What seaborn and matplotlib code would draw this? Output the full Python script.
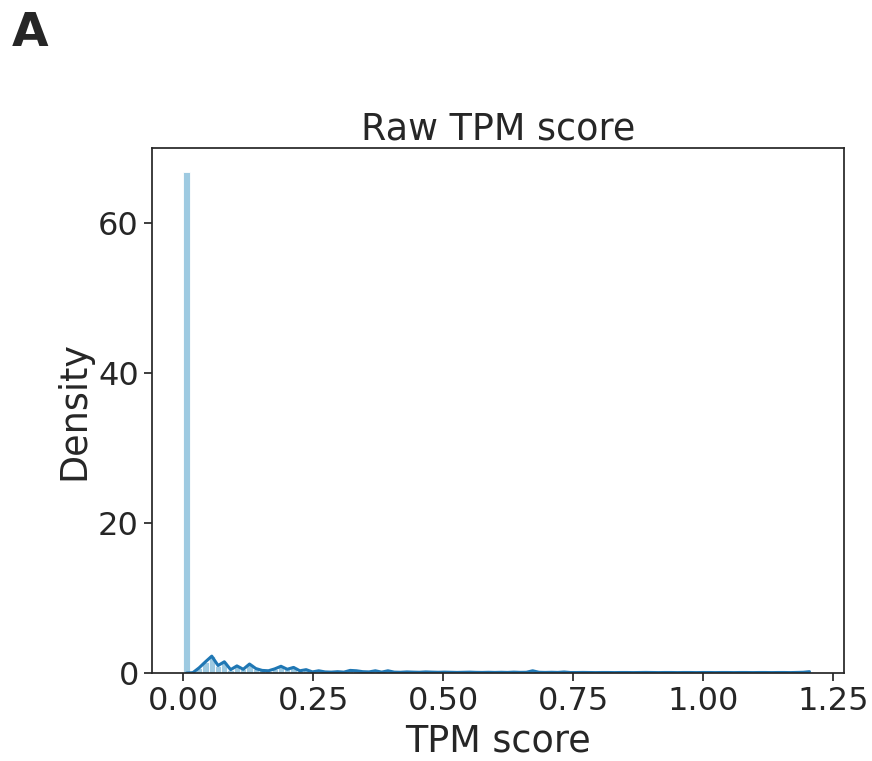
import numpy as np
import pandas as pd
import matplotlib
matplotlib.use("Agg")
import matplotlib.pyplot as plt
import seaborn as sns

# Histogram density per bin (100 bins spanning 0 .. 1.21)
bin_density = [
    66.8, 0.05, 0.7, 1.5, 2.25, 1.0, 1.5, 0.45, 0.95, 0.5,
    1.2, 0.6, 0.35, 0.3, 0.55, 0.9, 0.5, 0.75, 0.3, 0.45,
    0.15, 0.3, 0.15, 0.12, 0.18, 0.12, 0.35, 0.3, 0.18, 0.15,
    0.3, 0.12, 0.3, 0.12, 0.1, 0.15, 0.12, 0.1, 0.15, 0.12,
    0.1, 0.12, 0.1, 0.08, 0.1, 0.12, 0.09, 0.08, 0.1, 0.08,
    0.1, 0.08, 0.12, 0.09, 0.1, 0.3, 0.1, 0.08, 0.1, 0.08,
    0.14, 0.07, 0.07, 0.08, 0.07, 0.06, 0.07, 0.07, 0.06, 0.07,
    0.07, 0.06, 0.07, 0.08, 0.07, 0.06, 0.07, 0.07, 0.06, 0.07,
    0.07, 0.06, 0.07, 0.07, 0.06, 0.07, 0.07, 0.06, 0.07, 0.07,
    0.06, 0.07, 0.07, 0.06, 0.07, 0.07, 0.06, 0.08, 0.1, 0.18,
]
# Outline density (excludes the spike in the first bin)
line_density = [0.0] + bin_density[1:]

x_min, x_max = 0.0, 1.21
title = "Raw TPM score"
xlabel = "TPM score"
ylabel = "Density"
panel_label = "A"

edges = np.linspace(x_min, x_max, len(bin_density) + 1)
centers = (edges[:-1] + edges[1:]) / 2
df = pd.DataFrame({"center": centers, "bar": bin_density, "line": line_density})

sns.set_theme(style="ticks", context="notebook", font_scale=2.1)
plt.rcParams["font.family"] = ["DejaVu Sans"]

fig = plt.figure(figsize=(8.72, 7.61), dpi=100)
ax = fig.add_axes([0.1743, 0.1156, 0.968 - 0.1743, 0.8055 - 0.1156])

sns.histplot(x=df["center"], weights=df["bar"], bins=list(edges), ax=ax,
             color="#9ecae1", edgecolor="white", linewidth=0.6, alpha=1.0)
sns.lineplot(data=df, x="center", y="line", ax=ax, color="#1f77b4", linewidth=2.2)

ax.set_ylim(0, 70)
ax.set_yticks([0, 20, 40, 60])
ax.set_xticks([0.0, 0.25, 0.5, 0.75, 1.0, 1.25])
ax.set_xticklabels(["0.00", "0.25", "0.50", "0.75", "1.00", "1.25"])
ax.set_title(title, fontsize=26.3)
ax.set_xlabel(xlabel, fontsize=26.3)
ax.set_ylabel(ylabel, fontsize=26.3)

fig.text(0.014, 0.985, panel_label, fontsize=34, fontweight="bold", va="top", ha="left", color=".15")

fig.savefig("out.png", dpi=100)
